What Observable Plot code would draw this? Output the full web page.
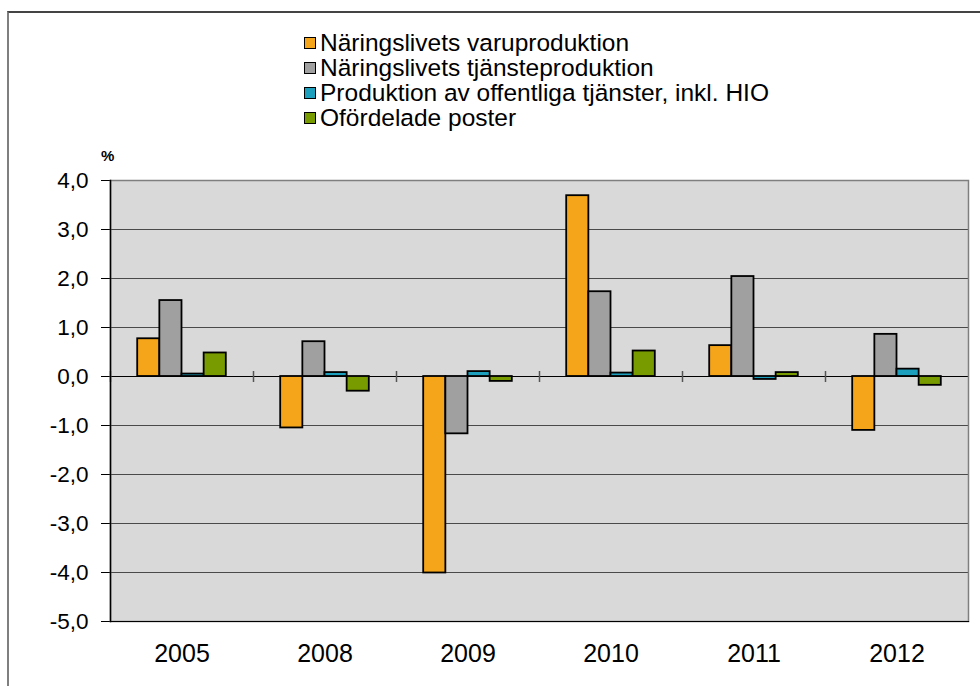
<!DOCTYPE html>
<html>
<head>
<meta charset="utf-8">
<script src="https://cdn.jsdelivr.net/npm/d3@7"></script>
<script src="https://cdn.jsdelivr.net/npm/@observablehq/plot@0.6"></script>
<style>
  html, body { margin: 0; padding: 0; background: white; }
  body { width: 980px; height: 686px; overflow: hidden; position: relative; font-family: 'Liberation Sans', Arial, sans-serif; }
  #outer { position: absolute; left: 7px; top: 11px; width: 990px; height: 700px; border-left: 2px solid #7f7f7f; border-top: 2px solid #444; box-sizing: border-box; pointer-events: none; }
  #legend { height: 140px; box-sizing: border-box; padding-top: 30px; padding-left: 304px; }
  .item { display: flex; align-items: center; height: 25px; font-size: 24.5px; color: #000; line-height: 25px; white-space: nowrap; }
  .sw { width: 10px; height: 10px; border: 1.5px solid #000; margin-right: 4px; flex: none; }
  #pct { position: absolute; left: 101px; top: 147px; font-size: 15px; font-weight: bold; }
  #chart { display: block; }
</style>
</head>
<body>
<div id="outer"></div>
<div id="legend"></div>
<div id="pct">%</div>
<div id="chart"></div>
<script>
const years = ["2005", "2008", "2009", "2010", "2011", "2012"];
const series = [
  "Näringslivets varuproduktion",
  "Näringslivets tjänsteproduktion",
  "Produktion av offentliga tjänster, inkl. HIO",
  "Ofördelade poster"
];
const colors = ["#F5A519", "#A0A0A0", "#1C9FBC", "#789B00"];
const varuproduktion   = [0.77, -1.05, -4.01, 3.69, 0.63, -1.10];
const tjansteproduktion = [1.55, 0.71, -1.17, 1.73, 2.04, 0.86];
const offentliga       = [0.05, 0.08, 0.10, 0.07, -0.06, 0.15];
const ofordelade       = [0.48, -0.30, -0.10, 0.52, 0.08, -0.18];
const yTicks = [-5, -4, -3, -2, -1, 0, 1, 2, 3, 4];

const valueSets = [varuproduktion, tjansteproduktion, offentliga, ofordelade];
const data = [];
years.forEach((yr, i) => series.forEach((s, j) => data.push({year: yr, series: s, value: valueSets[j][i]})));

// legend
const legend = document.getElementById("legend");
series.forEach((s, j) => {
  const it = document.createElement("div");
  it.className = "item";
  const sw = document.createElement("span");
  sw.className = "sw";
  sw.style.background = colors[j];
  const tx = document.createElement("span");
  tx.textContent = s;
  it.appendChild(sw); it.appendChild(tx);
  legend.appendChild(it);
});

const vline = {
  draw(context, size) {
    const h = Math.sqrt(size / Math.PI);
    context.moveTo(0, -h);
    context.lineTo(0, h);
  }
};

const chart = Plot.plot({
  width: 980,
  height: 546,
  marginLeft: 110,
  marginRight: 12,
  marginTop: 40,
  marginBottom: 65,
  style: {fontFamily: "'Liberation Sans', Arial, sans-serif", fontSize: "22.5px", color: "#000", background: "transparent", overflow: "visible"},
  fx: {domain: years, padding: 0, round: false, label: null, axis: "bottom", tickSize: 0, tickPadding: 23},
  x: {domain: series, paddingInner: 0, paddingOuter: 1.228, round: false, axis: null},
  y: {domain: [-5, 4], ticks: yTicks, tickFormat: d => d.toFixed(1).replace(".", ","), tickSize: 9, tickPadding: 13, label: null},
  color: {domain: series, range: colors},
  marks: [
    Plot.frame({fill: "#d9d9d9", stroke: null, shapeRendering: "crispEdges"}),
    Plot.gridY(yTicks, {stroke: "#303030", strokeOpacity: 0.85, strokeWidth: 1}),
    Plot.ruleY([0], {stroke: "#000", strokeWidth: 1.2}),
    Plot.barY(data, {fx: "year", x: "series", y1: 0, y2: "value", fill: "series", stroke: "#000", strokeWidth: 1.8}),
    Plot.dot([0], {y: d => d, frameAnchor: "left", symbol: vline, r: 5.5, stroke: "#555", strokeWidth: 1.5}),
    Plot.frame({facet: "super", stroke: "#7f7f7f", strokeWidth: 1.5, fill: "none"}),
    Plot.frame({facet: "super", anchor: "left", stroke: "#000", strokeWidth: 1.5}),
    Plot.frame({facet: "super", anchor: "bottom", stroke: "#000", strokeWidth: 1.2})
  ]
});
chart.querySelectorAll('g[aria-label="fx-axis tick label"] text, g[aria-label="fx-axis tick label"]').forEach(el => el.style.fontSize = "25px");
document.getElementById("chart").appendChild(chart);
</script>
</body>
</html>
